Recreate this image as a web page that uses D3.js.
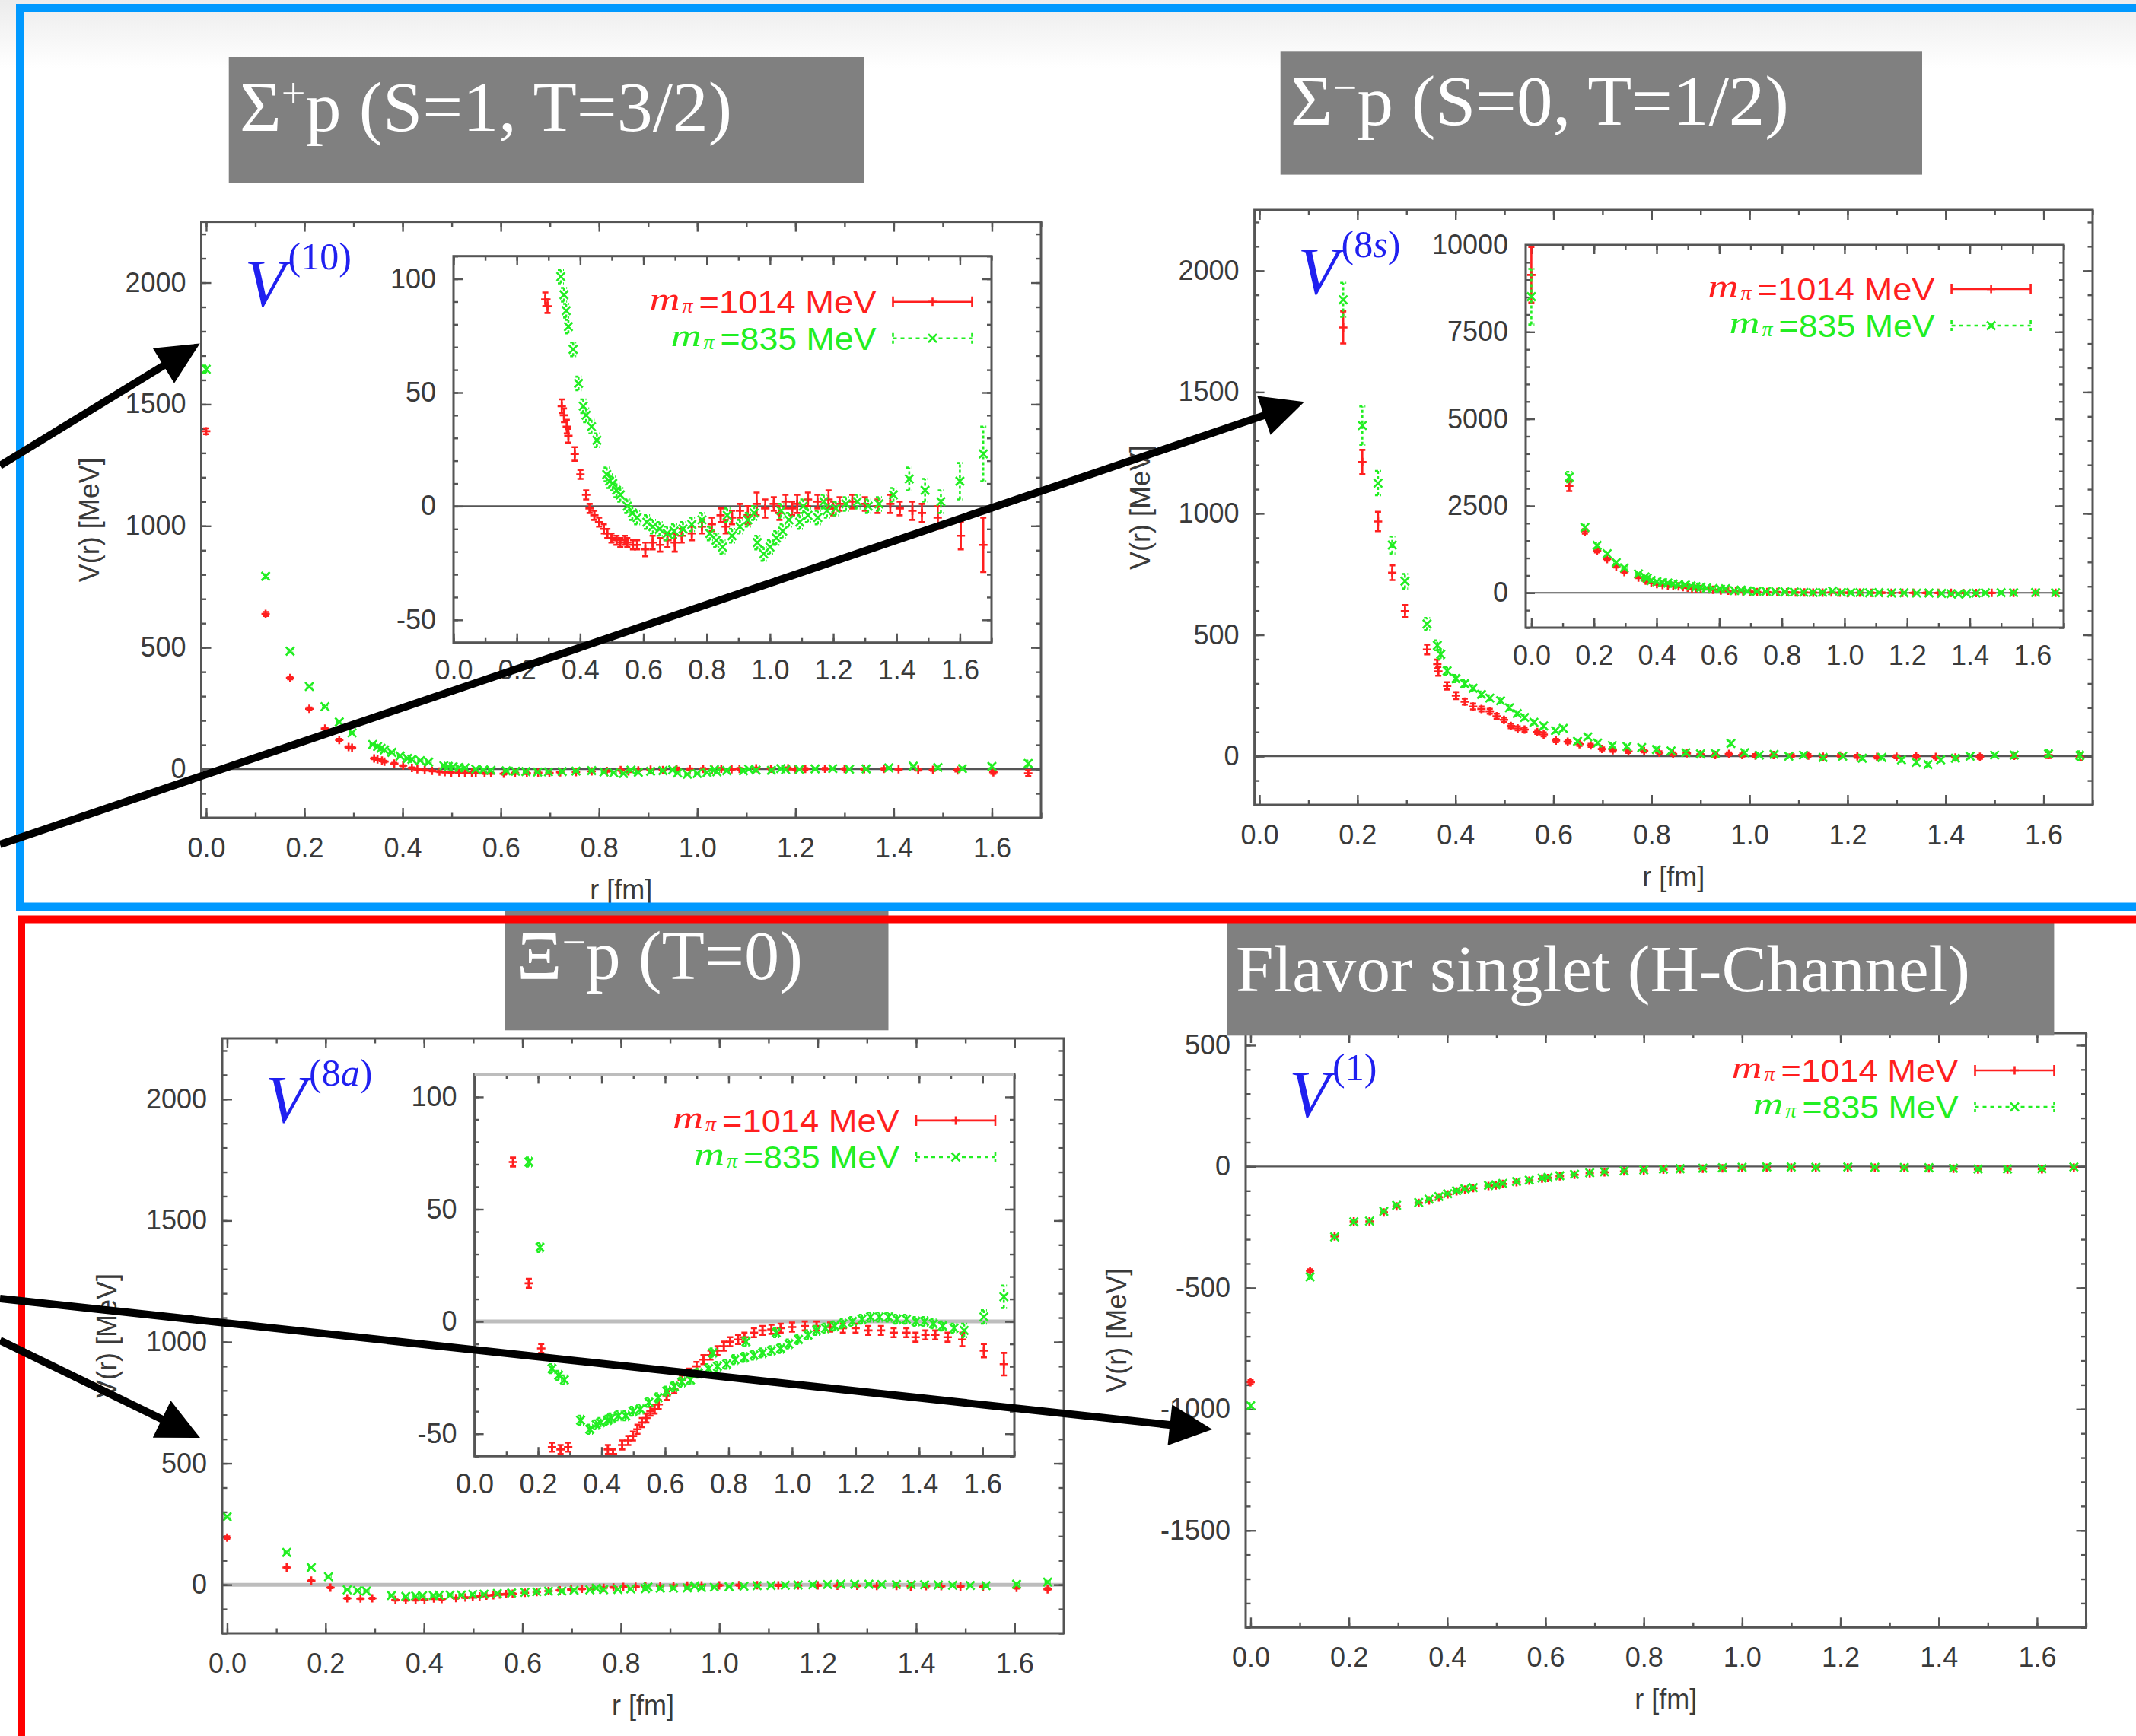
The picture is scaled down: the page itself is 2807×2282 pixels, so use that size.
<!DOCTYPE html>
<html>
<head>
<meta charset="utf-8">
<script src="https://cdn.jsdelivr.net/npm/d3@7"></script>
<style>
  body { margin: 0; background: #fff; }
  svg { display: block; }
</style>
</head>
<body>
<svg id="chart"></svg>
<script>
// each point: [r (fm), V (MeV), error (MeV)]
const v10_m1014 = [
  [0.000,1389,12],[0.121,638,8],[0.171,375,6],[0.210,248,5],[0.242,167,4],[0.271,120,4],[0.290,91,3],[0.297,88,3],
  [0.342,44,3],[0.349,40,3],[0.358,35,3],[0.363,31,3],[0.383,23,3],[0.401,14,2],[0.419,5,2],[0.430,-1,2],
  [0.445,-4,2],[0.460,-7,2],[0.475,-10,2],[0.486,-12,2],[0.499,-14,2],[0.515,-15,2],[0.527,-16,2],[0.541,-15,2],
  [0.549,-16,2],[0.567,-17,2],[0.580,-17,2],[0.606,-19,3],[0.629,-16,3],[0.653,-17,3],[0.676,-15,3],[0.699,-16,4],
  [0.721,-13,3],[0.753,-12,3],[0.785,-9,3],[0.816,-8,3],[0.844,-4,3],[0.860,-9,3],[0.880,-5,3],[0.905,-2,3],
  [0.930,-4,4],[0.958,1,5],[0.985,-1,4],[1.012,1,3],[1.030,-3,3],[1.049,2,3],[1.070,-1,3],[1.086,1,4],
  [1.120,3,3],[1.150,2,3],[1.185,3,4],[1.200,-1,3],[1.220,1,3],[1.260,2,3],[1.300,1,3],[1.340,0,3],
  [1.380,1,4],[1.410,-1,3],[1.450,-2,4],[1.480,-3,4],[1.530,-5,5],[1.603,-13,6],[1.674,-17,12]
];
const v10_m835 = [
  [0.000,1644,15],[0.121,793,8],[0.171,485,6],[0.210,340,5],[0.242,257,5],[0.271,194,4],[0.297,149,4],[0.339,101,3],
  [0.349,93,3],[0.356,86,3],[0.363,79,3],[0.378,69,3],[0.395,54,3],[0.410,44,3],[0.419,40,3],[0.436,35,3],
  [0.453,29,3],[0.484,14,3],[0.493,11,3],[0.503,10,3],[0.515,7,3],[0.527,5,3],[0.549,0,3],[0.565,-3,3],
  [0.580,-5,3],[0.611,-7,3],[0.630,-9,3],[0.651,-10,3],[0.675,-12,3],[0.697,-11,3],[0.725,-10,3],[0.753,-8,3],
  [0.785,-6,3],[0.810,-12,3],[0.830,-15,3],[0.850,-18,3],[0.865,-4,3],[0.880,-13,3],[0.905,-9,3],[0.930,-6,3],
  [0.950,-3,3],[0.960,-16,3],[0.980,-21,3],[1.000,-18,3],[1.020,-14,3],[1.035,-2,3],[1.040,-11,3],[1.060,-6,3],
  [1.094,-7,3],[1.105,0,3],[1.120,-4,3],[1.151,-5,3],[1.170,2,3],[1.180,-2,3],[1.208,-1,3],[1.240,1,3],
  [1.276,2,3],[1.310,0,3],[1.344,1,3],[1.390,5,3],[1.440,12,5],[1.490,7,5],[1.540,2,5],[1.600,11,8],[1.674,23,12]
];

const v8s_m1014 = [
  [0.000,9140,800],[0.121,3075,150],[0.171,1766,66],[0.210,1212,50],[0.242,967,40],[0.271,756,30],[0.297,598,25],
  [0.342,440,20],[0.363,380,18],[0.365,350,18],[0.383,290,15],[0.401,250,14],[0.419,225,12],[0.436,205,12],
  [0.453,195,10],[0.470,185,10],[0.484,165,10],[0.499,150,9],[0.513,125,9],[0.527,115,8],[0.541,110,8],
  [0.567,100,8],[0.580,90,8],[0.605,65,7],[0.629,60,7],[0.653,50,7],[0.676,45,6],[0.699,30,6],[0.721,25,6],
  [0.753,20,6],[0.785,22,6],[0.816,15,6],[0.844,10,6],[0.872,12,6],[0.900,8,6],[0.930,5,6],[0.958,10,6],
  [0.985,5,6],[1.012,3,6],[1.049,5,6],[1.086,2,6],[1.120,3,6],[1.150,-2,6],[1.185,3,6],[1.220,0,6],
  [1.260,-3,6],[1.300,-2,6],[1.340,0,6],[1.380,-3,6],[1.420,-5,6],[1.470,-2,8],[1.540,2,10],[1.610,5,12],[1.674,-2,15]
];
const v8s_m835 = [
  [0.000,8512,800],[0.121,3326,150],[0.171,1880,70],[0.210,1362,79],[0.242,1125,50],[0.271,870,35],[0.297,721,30],
  [0.342,545,25],[0.363,457,20],[0.370,420,18],[0.383,352,16],[0.401,320,15],[0.419,299,14],[0.436,280,12],
  [0.453,255,12],[0.470,240,11],[0.492,229,11],[0.510,200,10],[0.526,176,10],[0.541,160,10],[0.560,140,9],
  [0.580,125,9],[0.604,106,9],[0.620,115,9],[0.649,62,8],[0.670,80,8],[0.690,55,8],[0.720,45,8],[0.750,40,8],
  [0.780,36,8],[0.810,28,8],[0.840,22,8],[0.870,15,8],[0.900,10,8],[0.930,12,8],[0.962,53,10],[0.990,15,8],
  [1.020,5,8],[1.050,8,8],[1.080,0,8],[1.110,5,8],[1.150,-5,8],[1.190,0,8],[1.230,-8,8],[1.270,-5,8],
  [1.310,-15,8],[1.340,-25,9],[1.364,-34,10],[1.390,-15,9],[1.420,-8,9],[1.450,0,9],[1.500,5,10],
  [1.540,5,12],[1.610,10,15],[1.674,3,18]
];

const v8a_m1014 = [
  [0.000,194,5],[0.121,71,2],[0.171,17,2],[0.210,-12,2],[0.244,-56,2],[0.271,-57,2],[0.295,-56,2],[0.342,-63,2],
  [0.363,-64,2],[0.383,-63,2],[0.401,-62,2],[0.420,-57,2],[0.436,-59,2],[0.465,-55,2],[0.484,-53,2],[0.499,-51,2],
  [0.513,-48,2],[0.527,-45,2],[0.541,-43,2],[0.554,-40,2],[0.567,-39,2],[0.580,-37,2],[0.605,-33,2],[0.629,-30,2],
  [0.653,-26,2],[0.676,-23,2],[0.699,-20,2],[0.721,-17,2],[0.743,-15,2],[0.765,-13,2],[0.785,-11,2],[0.805,-9,2],
  [0.830,-8,2],[0.850,-7,2],[0.880,-5,2],[0.907,-4,2],[0.935,-3.5,2],[0.964,-3,2],[1.000,-2.5,2],[1.040,-2,2],
  [1.077,-2,2],[1.120,-2.5,2],[1.160,-3,2],[1.200,-3,2],[1.240,-4,2],[1.280,-4,2],[1.320,-5,2],[1.360,-5,2],
  [1.389,-7,2],[1.420,-6,2],[1.451,-6,2],[1.490,-7,2],[1.536,-8,3],[1.604,-13,3],[1.667,-19,5]
];
const v8a_m835 = [
  [0.000,280,5],[0.121,133,3],[0.171,71,2],[0.206,33,2],[0.244,-21,2],[0.265,-24,2],[0.283,-26,2],[0.334,-44,2],
  [0.363,-48,2],[0.383,-46,2],[0.397,-45,2],[0.419,-44,2],[0.431,-43,2],[0.453,-42,2],[0.476,-42,2],[0.499,-40,2],
  [0.522,-39,2],[0.549,-36,2],[0.578,-34,2],[0.605,-31,2],[0.629,-29,2],[0.653,-27,2],[0.680,-26,2],[0.705,-23,2],
  [0.737,-21,2],[0.750,-14,2],[0.765,-20,2],[0.794,-19,2],[0.820,-17,2],[0.850,-16,2],[0.855,-9,2],[0.880,-15,2],
  [0.907,-14,2],[0.935,-13,2],[0.950,-5,2],[0.964,-12,2],[0.990,-10,2],[1.020,-8,2],[1.050,-6,2],[1.077,-4,2],
  [1.105,-3,2],[1.134,-2,2],[1.160,-1,2],[1.190,0,2],[1.220,1,2],[1.247,2,2],[1.275,2,2],[1.304,2,2],
  [1.330,1,2],[1.360,1,2],[1.390,0,2],[1.417,0,2],[1.445,-1,2],[1.474,-2,2],[1.510,-3,2],[1.542,-4,3],
  [1.604,2,3],[1.667,11,5]
];

const v1_m1014 = [
  [0.000,-889,8],[0.121,-430,6],[0.171,-288,5],[0.210,-226,4],[0.242,-226,4],[0.271,-189,4],[0.297,-164,4],
  [0.342,-150,3],[0.363,-140,3],[0.383,-127,3],[0.401,-115,3],[0.419,-102,3],[0.436,-95,3],[0.453,-89,3],
  [0.484,-80,3],[0.499,-78,3],[0.513,-72,3],[0.541,-65,3],[0.567,-58,3],[0.593,-50,3],[0.605,-47,3],
  [0.629,-40,3],[0.659,-34,3],[0.690,-28,3],[0.720,-24,3],[0.760,-20,3],[0.800,-16,3],[0.840,-13,3],
  [0.874,-11,3],[0.920,-9,3],[0.960,-7,3],[1.000,-6,3],[1.050,-5,3],[1.100,-4,3],[1.150,-4,3],[1.215,-4,3],
  [1.270,-5,3],[1.330,-6,3],[1.380,-7,3],[1.430,-9,3],[1.480,-12,4],[1.540,-12,4],[1.610,-11,5],[1.675,-4,6]
];
const v1_m835 = [
  [0.000,-986,10],[0.121,-455,8],[0.171,-290,6],[0.210,-228,5],[0.242,-225,5],[0.271,-185,4],[0.297,-160,4],
  [0.342,-148,3],[0.363,-135,3],[0.383,-124,3],[0.401,-112,3],[0.419,-100,3],[0.436,-92,3],[0.453,-87,3],
  [0.484,-78,3],[0.499,-75,3],[0.513,-70,3],[0.541,-62,3],[0.567,-56,3],[0.593,-48,3],[0.605,-45,3],
  [0.629,-38,3],[0.659,-32,3],[0.690,-26,3],[0.720,-22,3],[0.760,-18,3],[0.800,-14,3],[0.840,-11,3],
  [0.874,-9,3],[0.920,-7,3],[0.960,-5,3],[1.000,-3,3],[1.050,-2,3],[1.100,-2,3],[1.150,-3,3],[1.215,-2,3],
  [1.270,-3,3],[1.330,-4,3],[1.380,-5,3],[1.430,-7,3],[1.480,-10,4],[1.540,-10,4],[1.610,-9,5],[1.675,-2,6]
];

// ticks and labels
const rTicks = [0, 0.2, 0.4, 0.6, 0.8, 1.0, 1.2, 1.4, 1.6];
const rTickLabels = ["0.0", "0.2", "0.4", "0.6", "0.8", "1.0", "1.2", "1.4", "1.6"];
const mainVTicks = [0, 500, 1000, 1500, 2000];
const singletVTicks = [-1500, -1000, -500, 0, 500];
const zoomVTicks = [-50, 0, 50, 100];
const bigVTicks = [0, 2500, 5000, 7500, 10000];
const seriesLabels = ["=1014 MeV", "=835 MeV"];
const titles = ["p (S=1, T=3/2)", "p (S=0, T=1/2)", "p (T=0)", "Flavor singlet (H-Channel)"];

const SANS = "'Liberation Sans', Arial, sans-serif";
const SERIF = "'Liberation Serif', 'Times New Roman', serif";
const RED = "#ff1f1f", GREEN = "#22ee22", AXIS = "#555";

const W = 2807, H = 2282;
const svg = d3.select("#chart").attr("width", W).attr("height", H);
const defs = svg.append("defs");
let clipCount = 0;

// light top shading of the slide
const grad = defs.append("linearGradient").attr("id", "topShade").attr("x1", 0).attr("x2", 0).attr("y1", 0).attr("y2", 1);
grad.append("stop").attr("offset", "0%").attr("stop-color", "#ececec");
grad.append("stop").attr("offset", "100%").attr("stop-color", "#ffffff");
svg.append("rect").attr("width", W).attr("height", H).attr("fill", "#fff");
svg.append("rect").attr("width", W).attr("height", 90).attr("fill", "url(#topShade)");

function markPath(kind, px, py, s) {
  if (kind === "plus") return `M${px - s},${py}H${px + s}M${px},${py - s}V${py + s}`;
  return `M${px - s},${py - s}L${px + s},${py + s}M${px - s},${py + s}L${px + s},${py - s}`;
}

function drawPlot(o) {
  const g = svg.append("g");
  const x = d3.scaleLinear().domain(o.xDomain).range([o.x0, o.x0 + o.w]);
  const y = d3.scaleLinear().domain(o.yDomain).range([o.y0 + o.h, o.y0]);
  const big = o.tick, small = o.tick / 2;

  g.append("rect").attr("x", o.x0).attr("y", o.y0).attr("width", o.w).attr("height", o.h).attr("fill", "#fff");

  const id = "clip" + (clipCount++);
  defs.append("clipPath").attr("id", id).append("rect")
    .attr("x", o.x0).attr("y", o.y0).attr("width", o.w).attr("height", o.h);

  g.append("line")
    .attr("x1", o.x0).attr("x2", o.x0 + o.w).attr("y1", y(0)).attr("y2", y(0))
    .attr("stroke", o.zeroColor || AXIS).attr("stroke-width", o.zeroWidth || 2.2);

  const styleAxis = sel => {
    sel.select(".domain").remove();
    sel.selectAll("line").attr("stroke", AXIS).attr("stroke-width", 2.4);
    sel.selectAll("text").attr("font-family", SANS).attr("font-size", o.fontSize).attr("fill", "#3a3a3a");
  };
  const xMinor = d3.range(0, o.xDomain[1] + 0.001, 0.1).filter(v => v >= o.xDomain[0]);
  const yMinor = d3.range(Math.ceil(o.yDomain[0] / o.yMinorStep) * o.yMinorStep, o.yDomain[1] + 1, o.yMinorStep);

  const bottom = g.append("g").attr("transform", `translate(0,${o.y0 + o.h})`);
  bottom.append("g").call(d3.axisBottom(x).tickValues(o.xMajor).tickSize(-big).tickPadding(o.xPad)
    .tickFormat((d, i) => o.xLabels[i])).call(styleAxis);
  bottom.append("g").call(d3.axisBottom(x).tickValues(xMinor).tickSize(-small).tickFormat("")).call(styleAxis);

  const top = g.append("g").attr("transform", `translate(0,${o.y0})`);
  top.append("g").call(d3.axisTop(x).tickValues(o.xMajor).tickSize(-big).tickFormat("")).call(styleAxis);
  top.append("g").call(d3.axisTop(x).tickValues(xMinor).tickSize(-small).tickFormat("")).call(styleAxis);

  const left = g.append("g").attr("transform", `translate(${o.x0},0)`);
  left.append("g").call(d3.axisLeft(y).tickValues(o.yMajor).tickSize(-big).tickPadding(o.yPad)
    .tickFormat(d => String(d))).call(styleAxis);
  left.append("g").call(d3.axisLeft(y).tickValues(yMinor).tickSize(-small).tickFormat("")).call(styleAxis);

  const right = g.append("g").attr("transform", `translate(${o.x0 + o.w},0)`);
  right.append("g").call(d3.axisRight(y).tickValues(o.yMajor).tickSize(-big).tickFormat("")).call(styleAxis);
  right.append("g").call(d3.axisRight(y).tickValues(yMinor).tickSize(-small).tickFormat("")).call(styleAxis);

  // data with error bars
  const dg = g.append("g").attr("clip-path", `url(#${id})`);
  o.series.forEach(s => {
    const sg = dg.append("g").attr("stroke", s.color).attr("stroke-width", 2.6).attr("fill", "none");
    sg.selectAll("path.err").data(s.values).join("path").attr("class", "err")
      .attr("stroke-dasharray", s.dashed ? "4,3" : null)
      .attr("d", d => {
        const px = x(d[0]), lo = y(d[1] - d[2]), hi = y(d[1] + d[2]);
        return `M${px},${lo}V${hi}M${px - 4},${lo}h8M${px - 4},${hi}h8`;
      });
    sg.selectAll("path.pt").data(s.values).join("path").attr("class", "pt")
      .attr("d", d => markPath(s.mark, x(d[0]), y(d[1]), 5.5));
  });

  g.append("rect").attr("x", o.x0).attr("y", o.y0).attr("width", o.w).attr("height", o.h)
    .attr("fill", "none").attr("stroke", AXIS).attr("stroke-width", 3);
  if (o.topColor) {
    g.append("line").attr("x1", o.x0).attr("x2", o.x0 + o.w).attr("y1", o.y0).attr("y2", o.y0)
      .attr("stroke", o.topColor).attr("stroke-width", 5);
  }

  if (o.legend) drawLegend(g, o);
  return { g, x, y };
}

function drawLegend(g, o) {
  const lineEnd = o.x0 + o.w - o.legend.right;
  const textEnd = lineEnd - 104 - 22;
  const widths = [233, 205];
  o.series.forEach((s, i) => {
    const ly = o.y0 + o.legend.top + i * 48;
    const start = textEnd - widths[i];
    g.append("text").attr("x", start).attr("y", ly + 15)
      .attr("font-family", SANS).attr("font-size", 42).attr("fill", s.color)
      .attr("textLength", widths[i]).attr("lengthAdjust", "spacingAndGlyphs")
      .text(seriesLabels[i]);
    // m with subscript pi
    g.append("text").attr("x", start - 8).attr("y", ly + 14)
      .attr("text-anchor", "end").attr("font-family", SERIF).attr("font-style", "italic")
      .attr("font-size", 28).attr("fill", s.color).text("π");
    g.append("text").attr("x", start - 25).attr("y", ly + 10)
      .attr("text-anchor", "end").attr("font-family", SERIF).attr("font-style", "italic")
      .attr("font-size", 43).attr("fill", s.color)
      .attr("textLength", 40).attr("lengthAdjust", "spacingAndGlyphs").text("m");
    const lx0 = lineEnd - 104, mid = lineEnd - 52;
    g.append("path")
      .attr("d", `M${lx0},${ly}H${lineEnd}M${lx0},${ly - 7}V${ly + 7}M${lineEnd},${ly - 7}V${ly + 7}`)
      .attr("stroke", s.color).attr("stroke-width", 2.6).attr("fill", "none")
      .attr("stroke-dasharray", s.dashed ? "5,5" : null);
    g.append("path").attr("d", markPath(s.mark, mid, ly, 5.5))
      .attr("stroke", s.color).attr("stroke-width", 2.6).attr("fill", "none");
  });
}

function potentialLabel(g, o, sup) {
  g.append("text").attr("x", o.x0 + 57).attr("y", o.y0 + 110)
    .attr("font-family", SERIF).attr("font-style", "italic").attr("font-size", 88)
    .attr("fill", "#2020f0").text("V");
  const t = g.append("text").attr("x", o.x0 + 114).attr("y", o.y0 + 62)
    .attr("font-family", SERIF).attr("font-size", 50).attr("fill", "#2020f0");
  sup.forEach(p => t.append("tspan").attr("font-style", p.italic ? "italic" : "normal").text(p.t));
}

function axisTitles(g, o, yOff) {
  g.append("text").attr("transform", `translate(${o.x0 - yOff},${o.y0 + o.h / 2}) rotate(-90)`)
    .attr("text-anchor", "middle").attr("dy", "0.35em")
    .attr("font-family", SANS).attr("font-size", 36).attr("fill", "#3a3a3a").text("V(r) [MeV]");
  g.append("text").attr("x", o.x0 + o.w / 2).attr("y", o.y0 + o.h + 94).attr("dy", "0.35em")
    .attr("text-anchor", "middle").attr("font-family", SANS).attr("font-size", 36)
    .attr("fill", "#3a3a3a").text("r [fm]");
}

const mainBase = { xDomain: [-0.01, 1.7], xMajor: rTicks, xLabels: rTickLabels, tick: 13,
  fontSize: 36, xPad: 26, yPad: 20, yMinorStep: 100 };
const insetBase = { xDomain: [0, 1.7], xMajor: rTicks, xLabels: rTickLabels, tick: 12,
  fontSize: 36, xPad: 23, yPad: 23 };

function seriesPair(red, green) {
  return [
    { values: red, color: RED, mark: "plus", dashed: false },
    { values: green, color: GREEN, mark: "cross", dashed: true }
  ];
}

// panel 1: Sigma+ p
const p1 = Object.assign({}, mainBase, { x0: 264.5, y0: 291.6, w: 1103.5, h: 783.4,
  yDomain: [-200, 2250], yMajor: mainVTicks, series: seriesPair(v10_m1014, v10_m835) });
const p1m = drawPlot(p1);
axisTitles(p1m.g, p1, 147);
potentialLabel(p1m.g, p1, [{ t: "(10)" }]);
drawPlot(Object.assign({}, insetBase, { x0: 596, y0: 336.7, w: 707, h: 508,
  yDomain: [-60, 110], yMajor: zoomVTicks, yMinorStep: 10, series: seriesPair(v10_m1014, v10_m835),
  legend: { right: 25.5, top: 60 } }));

// panel 2: Sigma- p
const p2 = Object.assign({}, mainBase, { x0: 1648.6, y0: 276, w: 1101.4, h: 782,
  yDomain: [-200, 2250], yMajor: mainVTicks, series: seriesPair(v8s_m1014, v8s_m835) });
const p2m = drawPlot(p2);
axisTitles(p2m.g, p2, 150);
potentialLabel(p2m.g, p2, [{ t: "(8" }, { t: "s", italic: true }, { t: ")" }]);
drawPlot(Object.assign({}, insetBase, { x0: 2005, y0: 322, w: 707, h: 503, xDomain: [-0.018, 1.7],
  yDomain: [-1000, 10000], yMajor: bigVTicks, yMinorStep: 500, series: seriesPair(v8s_m1014, v8s_m835),
  legend: { right: 43.4, top: 58 } }));

// panel 3: Xi- p
const p3 = Object.assign({}, mainBase, { x0: 292, y0: 1365, w: 1106, h: 782,
  yDomain: [-200, 2250], yMajor: mainVTicks, zeroColor: "#bdbdbd", zeroWidth: 5,
  series: seriesPair(v8a_m1014, v8a_m835) });
const p3m = drawPlot(p3);
axisTitles(p3m.g, p3, 152);
potentialLabel(p3m.g, p3, [{ t: "(8" }, { t: "a", italic: true }, { t: ")" }]);
drawPlot(Object.assign({}, insetBase, { x0: 623.6, y0: 1412.4, w: 709.4, h: 501.8,
  yDomain: [-60, 110], yMajor: zoomVTicks, yMinorStep: 10, zeroColor: "#bdbdbd", zeroWidth: 5,
  topColor: "#bdbdbd", series: seriesPair(v8a_m1014, v8a_m835), legend: { right: 25, top: 60.5 } }));

// panel 4: flavor singlet
const p4 = Object.assign({}, mainBase, { x0: 1637, y0: 1358, w: 1104.5, h: 781.3,
  yDomain: [-1900, 550], yMajor: singletVTicks, series: seriesPair(v1_m1014, v1_m835),
  legend: { right: 42, top: 49 } });
const p4m = drawPlot(p4);
axisTitles(p4m.g, p4, 170);
potentialLabel(p4m.g, p4, [{ t: "(1)" }]);

// grey title boxes
const boxes = [
  { x: 300.7, y: 75, w: 834.3, h: 165, tx: 315, ty: 172, size: 94, len: 647, head: "Σ", sup: "+" },
  { x: 1682.7, y: 67.3, w: 843.3, h: 162.3, tx: 1696, ty: 164, size: 94, len: 655, head: "Σ", sup: "−" },
  { x: 664, y: 1197, w: 503.5, h: 157.3, tx: 679, ty: 1287, size: 92, len: 376, head: "Ξ", sup: "−" },
  { x: 1612.7, y: 1206, w: 1086.7, h: 155.3, tx: 1624, ty: 1303, size: 86, len: 965, head: null, sup: null }
];
boxes.forEach((b, i) => {
  svg.append("rect").attr("x", b.x).attr("y", b.y).attr("width", b.w).attr("height", b.h).attr("fill", "#808080");
  const t = svg.append("text").attr("x", b.tx).attr("y", b.ty)
    .attr("font-family", SERIF).attr("font-size", b.size).attr("fill", "#fff")
    .attr("textLength", b.len).attr("lengthAdjust", "spacingAndGlyphs");
  if (b.head) {
    t.append("tspan").text(b.head);
    t.append("tspan").attr("font-size", b.size * 0.6).attr("dy", -30).text(b.sup);
    t.append("tspan").attr("dy", 30).text(titles[i]);
  } else {
    t.text(titles[i]);
  }
});

// section frames
svg.append("rect").attr("x", 26.5).attr("y", 10.5).attr("width", W + 40).attr("height", 1181.5)
  .attr("fill", "none").attr("stroke", "#0099ff").attr("stroke-width", 11);
svg.append("rect").attr("x", 28).attr("y", 1208.5).attr("width", W + 40).attr("height", 1200)
  .attr("fill", "none").attr("stroke", "#ff0000").attr("stroke-width", 10);

// black arrows pointing at each potential
const arrows = [
  { y0: 612, plot: p1m, r: -0.0128, v: 1750 },
  { y0: 1110, plot: p2m, r: 0.0915, v: 1460 },
  { y0: 1762, plot: p3m, r: -0.0548, v: 605 },
  { y0: 1707, plot: p4m, r: -0.078, v: -1084 }
];
arrows.forEach(a => {
  const tx = a.plot.x(a.r), ty = a.plot.y(a.v);
  const ang = Math.atan2(ty - a.y0, tx - 0);
  const L = 56, hw = 27;
  const bx = tx - L * Math.cos(ang), by = ty - L * Math.sin(ang);
  const nx = -Math.sin(ang) * hw, ny = Math.cos(ang) * hw;
  svg.append("line").attr("x1", 0).attr("y1", a.y0).attr("x2", bx + Math.cos(ang) * 4).attr("y2", by + Math.sin(ang) * 4)
    .attr("stroke", "#000").attr("stroke-width", 10);
  svg.append("path").attr("d", `M${tx},${ty}L${bx + nx},${by + ny}L${bx - nx},${by - ny}Z`).attr("fill", "#000");
});
</script>
</body>
</html>
